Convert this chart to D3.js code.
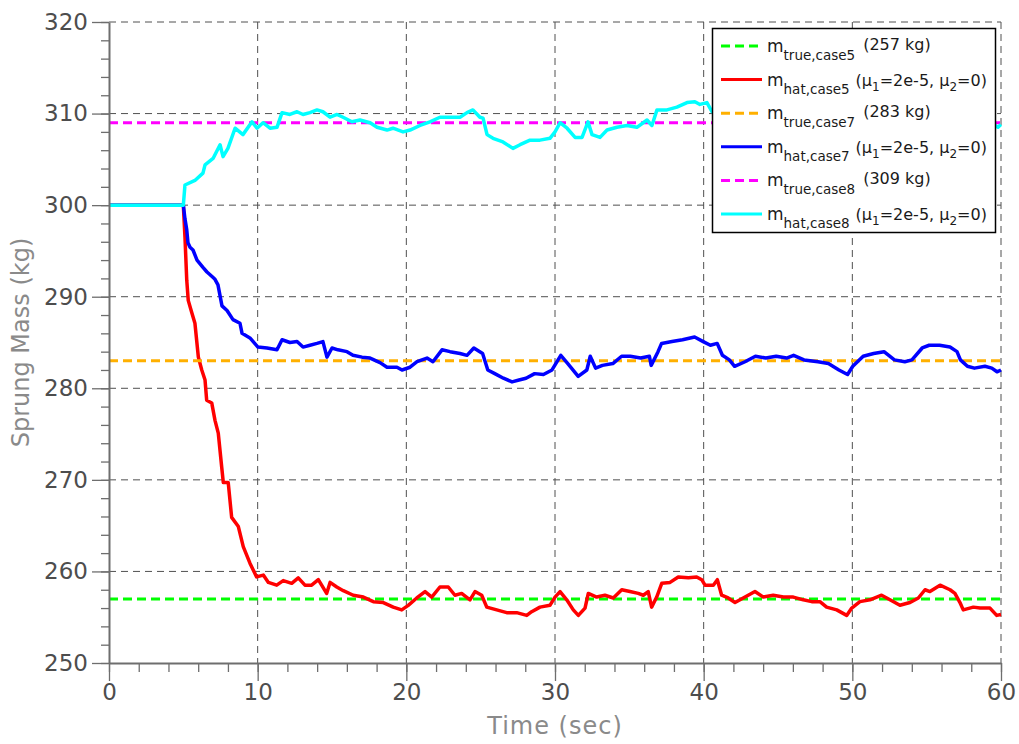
<!DOCTYPE html>
<html>
<head>
<meta charset="utf-8">
<script src="https://cdn.jsdelivr.net/npm/d3@7/dist/d3.min.js"></script>
<style>
  html, body { margin: 0; padding: 0; background: #fff; }
  svg { display: block; font-family: "DejaVu Sans", sans-serif; }
</style>
</head>
<body>
<svg id="chart" width="1019" height="744"></svg>
<script>
// ---------- data ----------
const xTicks = [0, 10, 20, 30, 40, 50, 60];
const yTicks = [250, 260, 270, 280, 290, 300, 310, 320];
const xMinor = d3.range(0, 61, 2);
const yMinor = d3.range(250, 321, 2);

const trueCase5 = 257;
const trueCase7 = 283;
const trueCase8 = 309;

const hatCase5 = [
  [0,300],[5.0,300],[5.11,296.5],[5.23,291.8],[5.33,289.6],[5.56,288.3],[5.78,287.1],[6.01,283.4],
  [6.24,282.0],[6.46,280.9],[6.57,278.7],[6.91,278.4],[7.13,276.5],[7.35,275.1],[7.58,271.4],
  [7.69,269.7],[8.02,269.7],[8.25,265.9],[8.70,264.9],[9.03,262.7],[9.48,260.9],[9.93,259.4],
  [10.38,259.6],[10.72,258.8],[11.28,258.5],[11.72,259.0],[12.29,258.7],[12.73,259.3],[13.18,258.5],
  [13.63,258.5],[14.08,259.1],[14.64,257.6],[14.87,258.8],[15.32,258.3],[15.76,257.9],[16.43,257.4],
  [17.11,257.2],[17.78,256.7],[18.45,256.6],[19.12,256.1],[19.69,255.8],[20.13,256.3],[20.70,257.1],
  [21.26,257.8],[21.71,257.2],[22.26,258.3],[22.82,258.3],[23.27,257.4],[23.72,257.6],[24.28,256.9],
  [24.62,257.8],[25.07,257.4],[25.41,256.1],[26.08,255.8],[26.75,255.5],[27.42,255.5],[28.10,255.2],
  [28.43,255.6],[28.99,256.1],[29.66,256.3],[30.0,257.2],[30.34,257.8],[30.79,256.9],[31.23,255.8],
  [31.57,255.2],[32.02,256.0],[32.24,257.6],[32.80,257.2],[33.36,257.4],[33.92,257.1],[34.49,258.0],
  [35.04,257.8],[35.60,257.6],[35.94,257.4],[36.27,257.8],[36.50,256.1],[36.84,257.2],[37.18,258.7],
  [37.74,258.8],[38.29,259.4],[38.97,259.3],[39.53,259.4],[39.87,259.1],[40.09,258.5],[40.65,258.5],
  [40.92,259.1],[41.21,257.4],[41.65,257.1],[42.11,256.6],[42.66,257.1],[43.45,257.8],[44.01,257.2],
  [44.68,257.4],[45.36,257.2],[46.03,257.2],[46.70,256.9],[47.27,256.7],[47.82,256.7],[48.27,256.1],
  [48.95,255.8],[49.62,255.2],[49.96,256.0],[50.51,256.7],[51.19,256.9],[51.97,257.4],[52.53,256.9],
  [53.20,256.3],[53.88,256.6],[54.44,257.1],[54.89,258.0],[55.22,257.8],[55.90,258.5],[56.57,258.0],
  [56.90,257.6],[57.24,256.6],[57.46,255.8],[58.14,256.1],[58.59,256.0],[59.26,256.0],[59.71,255.2],
  [60,255.3]
];

const hatCase7 = [
  [0,300],[5.0,300],[5.11,298.5],[5.23,297.3],[5.31,295.9],[5.45,295.4],[5.65,295.1],[5.92,294.0],
  [6.32,293.2],[6.59,292.7],[6.93,292.2],[7.13,291.9],[7.33,291.3],[7.60,289.0],[7.94,288.5],
  [8.34,287.5],[8.81,287.1],[8.95,286.0],[9.48,285.5],[10.02,284.5],[10.63,284.4],[11.30,284.2],
  [11.64,285.3],[12.17,285.0],[12.65,285.1],[13.05,284.5],[13.52,284.7],[13.99,284.9],[14.39,285.1],
  [14.66,283.4],[15.0,284.4],[15.40,284.2],[16.01,284.0],[16.41,283.6],[17.02,283.4],[17.56,283.3],
  [18.23,282.8],[18.70,282.3],[19.37,282.3],[19.71,282.0],[20.25,282.3],[20.72,282.9],[21.39,283.3],
  [21.79,282.9],[22.40,284.2],[22.94,284.0],[23.61,283.8],[24.08,283.6],[24.54,284.4],[25.13,283.8],
  [25.48,282.0],[25.95,281.6],[26.53,281.1],[27.11,280.7],[27.58,280.9],[28.05,281.1],[28.63,281.6],
  [29.22,281.5],[29.80,282.0],[30.39,283.6],[30.86,282.7],[31.56,281.3],[32.14,282.0],[32.37,283.5],
  [32.73,282.2],[33.19,282.5],[33.89,282.7],[34.48,283.5],[35.06,283.5],[35.76,283.3],[36.35,283.5],
  [36.47,282.5],[36.93,284.0],[37.17,284.9],[37.87,285.1],[38.58,285.3],[39.39,285.6],[39.97,285.1],
  [40.45,284.7],[40.91,284.9],[41.26,283.6],[41.73,283.1],[42.08,282.4],[42.78,282.9],[43.48,283.5],
  [44.18,283.3],[44.88,283.5],[45.58,283.3],[46.05,283.6],[46.75,283.1],[47.69,282.9],[48.39,282.7],
  [49.10,282.0],[49.68,281.5],[50.03,282.4],[50.73,283.5],[51.43,283.8],[52.13,284.0],[52.83,283.1],
  [53.53,282.9],[54.01,283.1],[54.70,284.4],[55.17,284.7],[55.87,284.7],[56.57,284.5],[57.04,284.0],
  [57.27,283.1],[57.74,282.4],[58.21,282.2],[58.92,282.4],[59.38,282.2],[59.73,281.8],[60,282.0]
];

const hatCase8 = [
  [0,300],[5.0,300],[5.11,302.2],[5.78,302.7],[6.32,303.5],[6.46,304.4],[7.0,305.1],[7.47,306.6],
  [7.67,305.3],[8.0,306.2],[8.48,308.4],[9.01,307.7],[9.62,309.1],[9.96,308.4],[10.36,309.0],
  [10.83,308.4],[11.3,308.5],[11.64,310.1],[12.17,309.9],[12.65,310.2],[13.05,309.9],[13.52,310.1],
  [13.99,310.4],[14.39,310.2],[14.87,309.6],[15.34,309.9],[15.74,309.6],[16.34,309.1],[16.88,309.3],
  [17.56,309.0],[18.03,308.5],[18.7,308.2],[19.1,308.4],[19.78,308.0],[20.25,308.2],[20.92,308.7],
  [21.59,309.1],[22.26,309.6],[22.94,309.6],[23.61,309.6],[24.08,310.1],[24.48,310.4],[24.95,309.6],
  [25.16,309.5],[25.43,307.7],[25.83,307.3],[26.5,306.9],[27.17,306.2],[27.65,306.6],[28.32,307.1],
  [28.99,307.1],[29.66,307.3],[30.0,308.0],[30.34,309.0],[30.81,308.4],[31.35,307.4],[31.82,307.4],
  [32.22,309.1],[32.49,307.7],[33.03,307.4],[33.5,308.2],[34.17,308.5],[34.84,308.7],[35.51,308.5],
  [36.19,309.3],[36.52,308.7],[36.86,310.4],[37.53,310.4],[38.2,310.7],[38.88,311.2],[39.41,311.3],
  [39.75,311.0],[40.22,311.2],[40.56,310.2],[42.0,310.0],[44.0,309.6],[46.0,309.8],[48.0,309.2],
  [50.0,308.9],[52.0,309.4],[54.0,309.7],[56.0,310.1],[58.0,309.6],[59.3,309.0],[59.8,308.5],[60,308.8]
];

const series = [
  { sub: "true,case5", note: "(257 kg)", color: "#00ff00", dashed: true,  value: trueCase5 },
  { sub: "hat,case5",  note: "mu",       color: "#ff0000", dashed: false, data: hatCase5 },
  { sub: "true,case7", note: "(283 kg)", color: "#ffb000", dashed: true,  value: trueCase7 },
  { sub: "hat,case7",  note: "mu",       color: "#0000ff", dashed: false, data: hatCase7 },
  { sub: "true,case8", note: "(309 kg)", color: "#ff00ff", dashed: true,  value: trueCase8 },
  { sub: "hat,case8",  note: "mu",       color: "#00ffff", dashed: false, data: hatCase8 }
];

// ---------- layout ----------
const svg = d3.select("#chart");
const x = d3.scaleLinear().domain([0, 60]).range([109, 1001]);
const y = d3.scaleLinear().domain([250, 320]).range([663, 22]);

const axisColor = "#6e6e6e";
const labelColor = "#4d4d4d";
const titleColor = "#8a8a8a";

// grid
const grid = svg.append("g").attr("stroke", "#505050").attr("stroke-width", 1)
  .attr("stroke-dasharray", "7,5").attr("fill", "none");
grid.selectAll("line.h").data(yTicks.filter(d => d > 250)).join("line")
  .attr("x1", x(0)).attr("x2", x(60)).attr("y1", d => y(d)).attr("y2", d => y(d));
grid.selectAll("line.v").data(xTicks.filter(d => d > 0)).join("line")
  .attr("class", "v")
  .attr("y1", y(320)).attr("y2", y(250)).attr("x1", d => x(d)).attr("x2", d => x(d));

// lines
svg.append("clipPath").attr("id", "plotclip").append("rect")
  .attr("x", x(0)).attr("y", y(320) - 3).attr("width", x(60) - x(0) + 2).attr("height", y(250) - y(320) + 3);
const plot = svg.append("g").attr("clip-path", "url(#plotclip)");
const line = d3.line().x(d => x(d[0])).y(d => y(d[1]));

series.forEach(s => {
  if (s.dashed) {
    plot.append("line")
      .attr("x1", x(0)).attr("x2", x(60)).attr("y1", y(s.value)).attr("y2", y(s.value))
      .attr("stroke", s.color).attr("stroke-width", 3).attr("stroke-dasharray", "9,5");
  } else {
    plot.append("path").datum(s.data).attr("d", line)
      .attr("fill", "none").attr("stroke", s.color).attr("stroke-width", 3.5)
      .attr("stroke-linejoin", "round");
  }
});

// axes
const yAxis = d3.axisLeft(y).tickValues(yTicks).tickSize(17).tickSizeOuter(0).tickPadding(4);
const yAxisMinor = d3.axisLeft(y).tickValues(yMinor).tickSize(8).tickSizeOuter(0).tickFormat("");
const xAxis = d3.axisBottom(x).tickValues(xTicks).tickSize(18).tickSizeOuter(0).tickPadding(3);
const xAxisMinor = d3.axisBottom(x).tickValues(xMinor).tickSize(9).tickSizeOuter(0).tickFormat("");

function styleAxis(g) {
  g.selectAll("path.domain").attr("stroke", axisColor).attr("stroke-width", 2);
  g.selectAll(".tick line").attr("stroke", axisColor).attr("stroke-width", 1.3);
  g.selectAll(".tick text").attr("fill", labelColor).attr("font-size", 23)
    .attr("font-family", "DejaVu Sans, sans-serif");
}
svg.append("g").attr("transform", `translate(${x(0)},0)`).call(yAxisMinor).call(styleAxis)
  .select("path.domain").remove();
svg.append("g").attr("transform", `translate(0,${y(250)})`).call(xAxisMinor).call(styleAxis)
  .select("path.domain").remove();
svg.append("g").attr("transform", `translate(${x(0)},0)`).call(yAxis).call(styleAxis);
svg.append("g").attr("transform", `translate(0,${y(250)})`).call(xAxis).call(styleAxis);

// axis titles
svg.append("text").attr("x", (x(0) + x(60)) / 2).attr("y", 734)
  .attr("text-anchor", "middle").attr("fill", titleColor).attr("font-size", 24)
  .attr("letter-spacing", 1).text("Time (sec)");
svg.append("text").attr("transform", `translate(29,${(y(250) + y(320)) / 2}) rotate(-90)`)
  .attr("text-anchor", "middle").attr("fill", titleColor).attr("font-size", 24)
  .text("Sprung Mass (kg)");

// legend
const lg = svg.append("g");
lg.append("rect").attr("x", 712.5).attr("y", 28.5).attr("width", 283).attr("height", 204)
  .attr("fill", "#fff").attr("stroke", "#000").attr("stroke-width", 1.5);
series.forEach((s, i) => {
  const cy = 46 + i * 33.6;
  lg.append("line").attr("x1", 721).attr("x2", 762).attr("y1", cy).attr("y2", cy)
    .attr("stroke", s.color).attr("stroke-width", 3)
    .attr("stroke-dasharray", s.dashed ? "9,5" : null);
  const t = lg.append("text").attr("x", 767).attr("y", cy + 6).attr("fill", "#1a1a1a").attr("font-size", 17);
  t.append("tspan").text("m");
  t.append("tspan").attr("dy", 8).attr("font-size", 13.5).text(s.sub);
  if (s.note === "mu") {
    t.append("tspan").attr("dy", -8).attr("font-size", 16).attr("dx", 6).text("(\u03bc");
    t.append("tspan").attr("dy", 5).attr("font-size", 12).text("1");
    t.append("tspan").attr("dy", -5).attr("font-size", 16).text("=2e-5, \u03bc");
    t.append("tspan").attr("dy", 5).attr("font-size", 12).text("2");
    t.append("tspan").attr("dy", -5).attr("font-size", 16).text("=0)");
  } else {
    t.append("tspan").attr("dy", -10).attr("dx", 8).attr("font-size", 16).text(s.note);
  }
});
</script>
</body>
</html>
